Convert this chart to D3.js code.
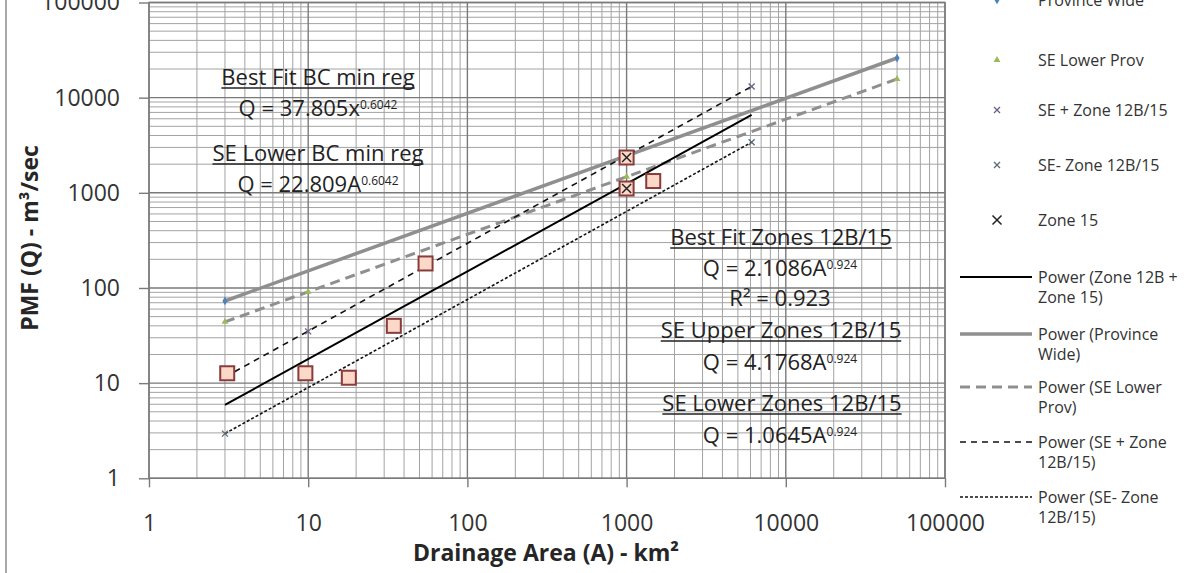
<!DOCTYPE html>
<html>
<head>
<meta charset="utf-8">
<script src="https://cdn.jsdelivr.net/npm/d3@7"></script>
<style>
  html, body { margin: 0; padding: 0; background: #fff; }
  svg { display: block; font-family: "Open Sans", sans-serif; }
</style>
</head>
<body>
<svg id="chart" width="1199" height="573"></svg>
<script>
// ---------------- DATA ----------------
const xTickValues = [1, 10, 100, 1000, 10000, 100000];
const xTickLabels = ["1", "10", "100", "1000", "10000", "100000"];
const yTickValues = [1, 10, 100, 1000, 10000, 100000];
const yTickLabels = ["1", "10", "100", "1000", "10000", "100000"];

// Observed points (Zone 12B + Zone 15), squares
const obsArea = [3.1, 9.6, 18, 34.5, 54.6, 1000, 1000, 1470];
const obsQ    = [12.7, 12.7, 11.4, 40, 181, 2350, 1110, 1330];
// Zone 15 points (X markers)
const zone15Area = [1000, 1000];
const zone15Q    = [2350, 1110];
// Province Wide points
const provArea = [3, 50000];
const provQ    = [73, 26100];
// SE Lower Prov points
const seLowProvArea = [3, 10, 1000, 50000];
const seLowProvQ    = [44, 91, 1480, 15700];
// SE + Zone 12B/15 points
const sePlusArea = [3, 10, 6100];
const sePlusQ    = [11.6, 35, 13100];
// SE- Zone 12B/15 points
const seMinusArea = [3, 6100];
const seMinusQ    = [2.95, 3400];

// Power trendlines (endpoints)
const trendZoneArea = [3, 6100];
const trendZoneQ    = [5.9, 6600];
const trendProvArea = [3, 50000];
const trendProvQ    = [73, 26100];
const trendSeLowProvArea = [3, 50000];
const trendSeLowProvQ    = [44, 15700];
const trendSePlusArea = [3, 6100];
const trendSePlusQ    = [11.6, 13100];
const trendSeMinusArea = [3, 6100];
const trendSeMinusQ    = [2.95, 3400];

const legendMarkerLabels = ["Province Wide", "SE Lower Prov", "SE + Zone 12B/15", "SE- Zone 12B/15", "Zone 15"];
const legendLineLabels = [
  ["Power (Zone 12B +", "Zone 15)"],
  ["Power (Province", "Wide)"],
  ["Power (SE Lower", "Prov)"],
  ["Power (SE + Zone", "12B/15)"],
  ["Power (SE- Zone", "12B/15)"]
];

// ---------------- DRAW ----------------
const svg = d3.select("#chart");
const L = 149, R = 945, T = 2.5, B = 478.3;
const x = d3.scaleLog().domain([1, 1e5]).range([L, R]);
const y = d3.scaleLog().domain([1, 1e5]).range([B, T]);

// chart area left border
svg.append("line").attr("x1", 6).attr("x2", 6).attr("y1", 0).attr("y2", 573)
  .attr("stroke", "#8c8c8c").attr("stroke-width", 1.5);

// gridlines
const minorVals = [];
const majorVals = [];
for (let d = 1; d < 1e5; d *= 10) {
  majorVals.push(d);
  for (let k = 2; k <= 9; k++) minorVals.push(d * k);
}
majorVals.push(1e5);
const grid = svg.append("g");
grid.selectAll(".vmin").data(minorVals).enter().append("line")
  .attr("x1", d => x(d)).attr("x2", d => x(d)).attr("y1", T).attr("y2", B)
  .attr("stroke", "#a3a3a3").attr("stroke-width", 1);
grid.selectAll(".hmin").data(minorVals).enter().append("line")
  .attr("y1", d => y(d)).attr("y2", d => y(d)).attr("x1", L).attr("x2", R)
  .attr("stroke", "#a3a3a3").attr("stroke-width", 1);
grid.selectAll(".vmaj").data(majorVals).enter().append("line")
  .attr("x1", d => x(d)).attr("x2", d => x(d)).attr("y1", T).attr("y2", B)
  .attr("stroke", "#7a7a7a").attr("stroke-width", 1.4);
grid.selectAll(".hmaj").data(majorVals).enter().append("line")
  .attr("y1", d => y(d)).attr("y2", d => y(d)).attr("x1", L).attr("x2", R)
  .attr("stroke", "#7a7a7a").attr("stroke-width", 1.4);

svg.append("rect").attr("x", L).attr("y", T).attr("width", R - L).attr("height", B - T)
  .attr("fill", "none").attr("stroke", "#7a7a7a").attr("stroke-width", 1.4);

// axes
const xAxis = d3.axisBottom(x).tickValues(xTickValues)
  .tickFormat((d, i) => xTickLabels[i]).tickSize(9).tickPadding(27);
const gx = svg.append("g").attr("transform", `translate(0,${B})`).call(xAxis);
const yAxis = d3.axisLeft(y).tickValues(yTickValues)
  .tickFormat((d, i) => yTickLabels[i]).tickSize(10).tickPadding(19);
const gy = svg.append("g").attr("transform", `translate(${L},0)`).call(yAxis);
[gx, gy].forEach(g => {
  g.select(".domain").remove();
  g.selectAll(".tick line").attr("stroke", "#7a7a7a").attr("stroke-width", 1.4);
  g.selectAll(".tick text").attr("fill", "#333").style("font-size", "23px")
    .style("font-family", "'Open Sans', sans-serif");
});

// axis titles
svg.append("text").attr("x", 546).attr("y", 553).attr("dy", "0.35em")
  .attr("text-anchor", "middle").style("font-size", "23px").style("font-weight", "bold")
  .attr("fill", "#262626").text("Drainage Area (A) - km²");
svg.append("text").attr("transform", "translate(30,238) rotate(-90)").attr("dy", "0.35em")
  .attr("text-anchor", "middle").style("font-size", "23px").style("font-weight", "bold")
  .attr("fill", "#262626").text("PMF (Q) - m³/sec");

// trendlines
const line = d3.line().x(d => x(d[0])).y(d => y(d[1]));
function trend(area, q, color, width, dash) {
  svg.append("path").datum(area.map((a, i) => [a, q[i]]))
    .attr("d", line).attr("fill", "none").attr("stroke", color)
    .attr("stroke-width", width).attr("stroke-dasharray", dash || null);
}
trend(trendProvArea, trendProvQ, "#8f8f8f", 3.5);
trend(trendSeLowProvArea, trendSeLowProvQ, "#8f8f8f", 3, "10,6");
trend(trendSePlusArea, trendSePlusQ, "#111", 1.6, "6,5");
trend(trendSeMinusArea, trendSeMinusQ, "#111", 1.6, "3,2");
trend(trendZoneArea, trendZoneQ, "#000", 2);

// series markers
function pts(area, q) { return area.map((a, i) => [a, q[i]]); }
svg.selectAll(".prov").data(pts(provArea, provQ)).enter().append("path")
  .attr("d", d3.symbol(d3.symbolDiamond, 22)())
  .attr("transform", d => `translate(${x(d[0])},${y(d[1])})`).attr("fill", "#4f81bd");
svg.selectAll(".selow").data(pts(seLowProvArea, seLowProvQ)).enter().append("path")
  .attr("d", d3.symbol(d3.symbolTriangle, 20)())
  .attr("transform", d => `translate(${x(d[0])},${y(d[1])})`).attr("fill", "#9bbb59");
function xMark(sel, size, color, w) {
  sel.append("path").attr("d", `M${-size},${-size}L${size},${size}M${-size},${size}L${size},${-size}`)
    .attr("stroke", color).attr("stroke-width", w).attr("fill", "none");
}
svg.selectAll(".seplus").data(pts(sePlusArea, sePlusQ)).enter().append("g")
  .attr("transform", d => `translate(${x(d[0])},${y(d[1])})`)
  .call(s => xMark(s, 3, "#6d5c8a", 1.3));
svg.selectAll(".seminus").data(pts(seMinusArea, seMinusQ)).enter().append("g")
  .attr("transform", d => `translate(${x(d[0])},${y(d[1])})`)
  .call(s => xMark(s, 3, "#5a6a7a", 1.3));

// observed squares
svg.selectAll(".obs").data(pts(obsArea, obsQ)).enter().append("rect")
  .attr("x", d => x(d[0]) - 7).attr("y", d => y(d[1]) - 7)
  .attr("width", 14).attr("height", 14)
  .attr("fill", "#fbd8c8").attr("stroke", "#8a3b3b").attr("stroke-width", 2);
svg.selectAll(".z15").data(pts(zone15Area, zone15Q)).enter().append("g")
  .attr("transform", d => `translate(${x(d[0])},${y(d[1])})`)
  .call(s => xMark(s, 4.5, "#222", 1.5));

// annotations
const ann = svg.append("g").attr("fill", "#222").style("font-size", "22px");
function title(cx, cy, txt) {
  const t = ann.append("text").attr("x", cx).attr("y", cy).attr("dy", "0.35em")
    .attr("text-anchor", "middle").text(txt);
  const w = t.node().getComputedTextLength();
  ann.append("line").attr("x1", cx - w / 2).attr("x2", cx + w / 2)
    .attr("y1", cy + 11).attr("y2", cy + 11).attr("stroke", "#222").attr("stroke-width", 1.6);
}
function eqn(cx, cy, base, sup) {
  const t = ann.append("text").attr("x", cx).attr("y", cy).attr("dy", "0.35em")
    .attr("text-anchor", "middle");
  t.append("tspan").text(base);
  if (sup) t.append("tspan").attr("dy", "-0.55em").style("font-size", "12px").text(sup);
}
title(318, 77, "Best Fit BC min reg");
eqn(318, 108, "Q = 37.805x", "0.6042");
title(318, 153, "SE Lower BC min reg");
eqn(318, 184, "Q = 22.809A", "0.6042");

title(781, 237, "Best Fit Zones 12B/15");
eqn(780, 268, "Q = 2.1086A", "0.924");
eqn(780, 298, "R² = 0.923");
title(781, 330, "SE Upper Zones 12B/15");
eqn(780, 362, "Q = 4.1768A", "0.924");
title(782, 403, "SE Lower Zones 12B/15");
eqn(780, 435, "Q = 1.0645A", "0.924");

// legend
const lg = svg.append("g").style("font-size", "16px").attr("fill", "#333");
const markerY = [0, 60, 110, 165, 220];
const mx = 997, tx = 1038;
legendMarkerLabels.forEach((lab, i) => {
  lg.append("text").attr("x", tx).attr("y", markerY[i]).attr("dy", "0.35em").text(lab);
});
lg.append("path").attr("d", d3.symbol(d3.symbolDiamond, 22)())
  .attr("transform", `translate(${mx},${markerY[0]})`).attr("fill", "#4f81bd");
lg.append("path").attr("d", d3.symbol(d3.symbolTriangle, 20)())
  .attr("transform", `translate(${mx},${markerY[1]})`).attr("fill", "#9bbb59");
lg.append("g").attr("transform", `translate(${mx},${markerY[2]})`).call(s => xMark(s, 3, "#6d5c8a", 1.3));
lg.append("g").attr("transform", `translate(${mx},${markerY[3]})`).call(s => xMark(s, 3, "#5a6a7a", 1.3));
lg.append("g").attr("transform", `translate(${mx},${markerY[4]})`).call(s => xMark(s, 4.5, "#222", 1.5));

const lineY = [277, 334, 387, 442, 497];
const lineStyles = [
  { c: "#000", w: 2, d: null },
  { c: "#8f8f8f", w: 3.5, d: null },
  { c: "#8f8f8f", w: 3, d: "10,6" },
  { c: "#111", w: 1.6, d: "6,5" },
  { c: "#111", w: 1.6, d: "3,2" }
];
legendLineLabels.forEach((labs, i) => {
  const st = lineStyles[i];
  lg.append("line").attr("x1", 960).attr("x2", 1032).attr("y1", lineY[i]).attr("y2", lineY[i])
    .attr("stroke", st.c).attr("stroke-width", st.w).attr("stroke-dasharray", st.d);
  labs.forEach((s, j) => {
    lg.append("text").attr("x", tx).attr("y", lineY[i] + j * 20).attr("dy", "0.35em").text(s);
  });
});
</script>
</body>
</html>
